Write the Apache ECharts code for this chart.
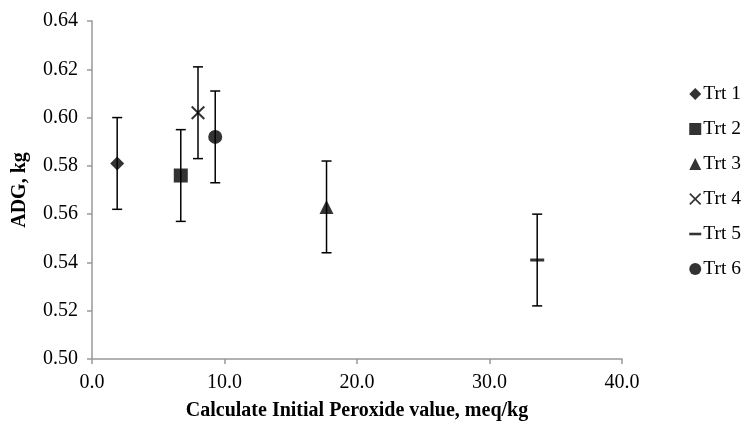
<!DOCTYPE html>
<html>
<head>
<meta charset="utf-8">
<script src="https://cdn.jsdelivr.net/npm/echarts@6/dist/echarts.min.js"></script>
<style>
  html, body { margin: 0; padding: 0; background: #fff; }
  #chart { width: 754px; height: 430px; }
</style>
</head>
<body>
<div id="chart"></div>
<script>
// 各处理的数据：x为初始过氧化值，y为ADG，err为误差
const treatments = ["Trt 1", "Trt 2", "Trt 3", "Trt 4", "Trt 5", "Trt 6"];
const peroxide = [1.9, 6.7, 17.7, 8.0, 33.6, 9.3];
const adg = [0.581, 0.576, 0.563, 0.602, 0.541, 0.592];
const adgErr = [0.019, 0.019, 0.019, 0.019, 0.019, 0.019];

const FONT = "Liberation Serif";
const crossPath = "path://M0,1L1,0L5,4L9,0L10,1L6,5L10,9L9,10L5,6L1,10L0,9L4,5Z";
const dashPath = "path://M0,0L14,0L14,3L0,3Z";
const symbols = ["diamond", "rect", "triangle", crossPath, dashPath, "circle"];
const sizes = [14, 14, 14, 14, 14, 14];

const chart = echarts.init(document.getElementById("chart"));

const scatterSeries = treatments.map((name, i) => ({
  name: name,
  type: "scatter",
  symbol: symbols[i],
  symbolSize: sizes[i],
  symbolKeepAspect: true,
  itemStyle: { color: "#000" },
  z: 3,
  data: [[peroxide[i], adg[i]]],
}));

// 误差线
const errorSeries = {
  type: "custom",
  silent: true,
  z: 2,
  renderItem: function (params, api) {
    const x = api.value(0);
    const lo = api.coord([x, api.value(1) - api.value(2)]);
    const hi = api.coord([x, api.value(1) + api.value(2)]);
    const w = 5;
    const style = { stroke: "#000", lineWidth: 1.5 };
    return {
      type: "group",
      children: [
        { type: "line", shape: { x1: lo[0], y1: lo[1], x2: hi[0], y2: hi[1] }, style: style },
        { type: "line", shape: { x1: lo[0] - w, y1: lo[1], x2: lo[0] + w, y2: lo[1] }, style: style },
        { type: "line", shape: { x1: hi[0] - w, y1: hi[1], x2: hi[0] + w, y2: hi[1] }, style: style },
      ],
    };
  },
  data: peroxide.map((x, i) => [x, adg[i], adgErr[i]]),
};

const option = {
  animation: false,
  textStyle: { fontFamily: FONT },
  grid: { left: 92, right: 132, top: 21, bottom: 71 },
  legend: {
    orient: "vertical",
    right: 8,
    top: 79,
    itemWidth: 12,
    itemHeight: 12,
    itemGap: 15,
    selectedMode: false,
    data: treatments,
    textStyle: { fontFamily: FONT, fontSize: 19.5, color: "#000", padding: [0, 0, 0, -3] },
  },
  xAxis: {
    type: "value",
    min: 0,
    max: 40,
    interval: 10,
    name: "Calculate Initial Peroxide value, meq/kg",
    nameLocation: "middle",
    nameGap: 42,
    nameTextStyle: { fontFamily: FONT, fontSize: 20, fontWeight: "bold", color: "#000" },
    axisLine: { show: true, lineStyle: { color: "#999", width: 1.5 } },
    axisTick: { show: true, length: 5, lineStyle: { color: "#999", width: 1.5 } },
    axisLabel: {
      margin: 14,
      fontFamily: FONT,
      fontSize: 20,
      color: "#000",
      formatter: (v) => v.toFixed(1),
    },
    splitLine: { show: false },
  },
  yAxis: {
    type: "value",
    min: 0.5,
    max: 0.64,
    interval: 0.02,
    name: "ADG, kg",
    nameLocation: "middle",
    nameGap: 62,
    nameTextStyle: { fontFamily: FONT, fontSize: 20, fontWeight: "bold", color: "#000" },
    axisLine: { show: true, lineStyle: { color: "#999", width: 1.5 } },
    axisTick: { show: true, length: 5, lineStyle: { color: "#999", width: 1.5 } },
    axisLabel: {
      margin: 14,
      fontFamily: FONT,
      fontSize: 20,
      color: "#000",
      formatter: (v) => v.toFixed(2),
    },
    splitLine: { show: false },
  },
  series: [errorSeries].concat(scatterSeries),
};

chart.setOption(option);
</script>
</body>
</html>
